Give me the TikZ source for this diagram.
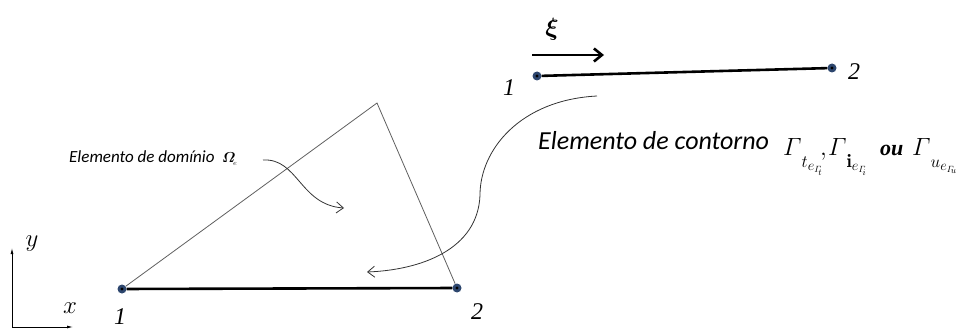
\documentclass[tikz,border=0pt]{standalone}
\usepackage{amsmath}
\usepackage{bm}
\usepackage{fontspec}
\usetikzlibrary{arrows.meta}
\newfontfamily\calib{Carlito}
\newfontfamily\tms{Liberation Serif}
\definecolor{dotblue}{RGB}{45,70,110}
\definecolor{edgegray}{RGB}{95,95,95}
\newcommand{\gsub}[1]{\raisebox{-12pt}{\fontsize{19}{21}\selectfont$#1$}}
\begin{document}
\begin{tikzpicture}[x=1pt,y=-1pt,
  dotnode/.style={circle,fill=dotblue,inner sep=0pt,minimum size=9pt,
    path picture={\fill[black] (path picture bounding box.center) circle (1.6pt);}},
  numlabel/.style={font=\tms\itshape\fontsize{24}{26}\selectfont,inner sep=0pt},
  gamlabel/.style={font=\fontsize{25}{28}\selectfont,inner sep=0pt,anchor=base west},
  thin edge/.style={draw=edgegray,line width=0.8pt},
  thick edge/.style={draw=black,line width=2.6pt},
  curvearrow/.style={draw=black!80,line width=0.8pt,-{Straight Barb[length=7pt,width=11pt]}}]
\useasboundingbox (0,0) rectangle (961,331);
% triangle
\node[dotnode] (t1) at (122,289) {};
\node[dotnode] (t2) at (457,288) {};
\coordinate (apex) at (377,103);
\draw[thin edge] (t1) -- (apex) -- (t2);
\draw[thick edge] (t1) -- (t2);
\node[numlabel] (lt1) at (120,317) {1};
\node[numlabel] (lt2) at (477,312) {2};
% boundary element
\node[dotnode] (b1) at (537,76) {};
\node[dotnode] (b2) at (832,68) {};
\draw[thick edge] (b1) -- (b2);
\node[numlabel] (lb1) at (509,88) {1};
\node[numlabel] (lb2) at (854,72) {2};
% xi arrow
\coordinate (xa) at (532,55);
\coordinate (xb) at (604,55);
\draw[line width=2.6pt,-{Straight Barb[length=8pt,width=13pt]}] (xa) -- (xb);
\node[font=\fontsize{26}{28}\selectfont,inner sep=0pt] (xi) at (552,29) {$\bm{\xi}$};
% axes
\coordinate (o) at (12,327);
\coordinate (ya) at (12,248);
\coordinate (xaxis) at (73,327);
\draw[line width=0.8pt,-{Latex[length=6pt,width=3pt]}] (o) -- (ya);
\draw[line width=0.8pt,-{Latex[length=6pt,width=3pt]}] (o) -- (xaxis);
\node[font=\fontsize{25}{28}\selectfont,inner sep=0pt] (ylab) at (32,244) {$y$};
\node[font=\fontsize{25}{28}\selectfont,inner sep=0pt] (xlab) at (70,308) {$x$};
% domain label
\node[font=\calib\itshape\fontsize{17}{19}\selectfont,anchor=west,inner sep=0pt] (dom) at (69,157) {Elemento de dom\'inio};
\node[font=\fontsize{15}{18}\selectfont,inner sep=0pt,anchor=base west] (om) at (222,163) {$\bm{\varOmega}_{\!\scriptscriptstyle e}$};
\coordinate (da) at (263,160);
\coordinate (db) at (344,208);
\draw[curvearrow] (da) .. controls (298,158) and (300,205) .. (db);
% contour label
\node[font=\calib\itshape\fontsize{26}{28}\selectfont,anchor=base west,inner sep=0pt] (cont) at (538,150) {Elemento de contorno};
\node[gamlabel] (g1) at (783,156) {$\varGamma$\gsub{t_{e_{\varGamma_{\!t}}}}};
\node[gamlabel] (cm1) at (820,156) {$,$};
\node[gamlabel] (g2) at (828,156) {$\varGamma$\gsub{\mathbf{i}_{e_{\varGamma_{\!i}}}}};
\node[gamlabel,font=\tms\bfseries\itshape\fontsize{22}{24}\selectfont] (ou) at (880,156) {ou};
\node[gamlabel] (g3) at (912,156) {$\varGamma$\gsub{u_{e_{\varGamma_{\!u}}}}};
\coordinate (ca) at (597,96);
\coordinate (cmid) at (480,195);
\coordinate (cb) at (367,272);
\draw[curvearrow] (ca) .. controls (520,100) and (480,150) .. (cmid) .. controls (478,250) and (420,270) .. (cb);
\end{tikzpicture}
\end{document}
